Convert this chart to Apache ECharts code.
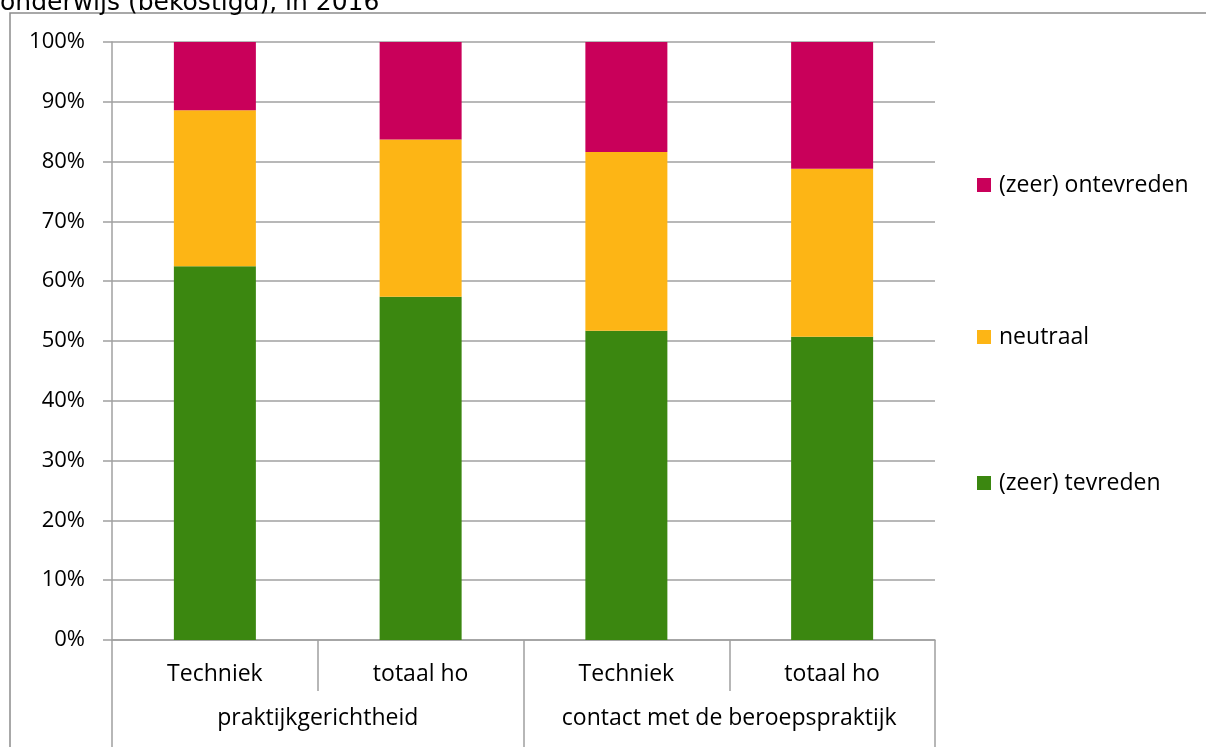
<!DOCTYPE html>
<html>
<head>
<meta charset="utf-8">
<script src="https://cdn.jsdelivr.net/npm/echarts@6/dist/echarts.min.js"></script>
<style>
  html, body { margin: 0; padding: 0; background: #fff; }
  #chart { width: 1206px; height: 747px; }
</style>
</head>
<body>
<div id="chart"></div>
<script>
// categories and values (percent)
const categories = ['Techniek', 'totaal ho', 'Techniek', 'totaal ho'];
const groups = ['praktijkgerichtheid', 'contact met de beroepspraktijk'];
const tevreden = [62.5, 57.4, 51.7, 50.7];
const neutraal = [26.1, 26.3, 29.9, 28.1];
const ontevreden = [11.4, 16.3, 18.4, 21.2];
const seriesNames = ['(zeer) tevreden', 'neutraal', '(zeer) ontevreden'];
const colors = ['#3B8710', '#FDB515', '#C9005A'];

const font = '"Open Sans", Lato, sans-serif';
const grey = '#A0A0A0';

const chart = echarts.init(document.getElementById('chart'));

// legend rows from top: ontevreden, neutraal, tevreden
const legendTops = [173, 325, 471];
const legendOrder = [2, 1, 0];

const option = {
    animation: false,
    textStyle: { fontFamily: font },
    grid: { left: 112, right: 271, top: 42, bottom: 107 },
    legend: legendOrder.map((idx, k) => ({
        orient: 'vertical',
        left: 977,
        top: legendTops[k],
        padding: 0,
        itemWidth: 14,
        itemHeight: 14,
        itemGap: 7,
        icon: 'rect',
        data: [seriesNames[idx]],
        textStyle: { fontFamily: font, fontSize: 23, lineHeight: 24, color: '#000', padding: [0, 0, 0, 3] }
    })),
    xAxis: [
        {
            type: 'category',
            data: categories,
            axisLine: { lineStyle: { color: grey, width: 1.5 } },
            axisTick: { show: true, interval: 0, length: 51, lineStyle: { color: grey, width: 1.5 } },
            axisLabel: { interval: 0, color: '#000', fontSize: 23, margin: 34, verticalAlign: 'middle' }
        },
        {
            type: 'category',
            data: groups,
            position: 'bottom',
            axisLine: { show: false },
            axisTick: { show: true, interval: 0, length: 110, lineStyle: { color: grey, width: 1.5 } },
            axisLabel: { interval: 0, color: '#000', fontSize: 23, margin: 78, verticalAlign: 'middle' }
        }
    ],
    yAxis: {
        type: 'value',
        min: 0,
        max: 100,
        interval: 10,
        axisLine: { show: true, lineStyle: { color: grey, width: 1.5 } },
        axisTick: { show: true, length: 9, lineStyle: { color: grey, width: 1.5 } },
        splitLine: { lineStyle: { color: grey, width: 1.5 } },
        axisLabel: { color: '#000', fontSize: 22, margin: 27, formatter: '{value}%' }
    },
    series: [tevreden, neutraal, ontevreden].map((vals, i) => ({
        name: seriesNames[i],
        type: 'bar',
        stack: 'total',
        barWidth: 82,
        itemStyle: { color: colors[i] },
        data: vals
    })),
    graphic: [
        {
            type: 'rect',
            shape: { x: 10, y: 13, width: 1250, height: 800 },
            style: { fill: 'none', stroke: '#8C8C8C', lineWidth: 1.5 },
            silent: true
        },
        {
            type: 'text',
            left: 0,
            top: -9,
            style: {
                text: 'onderwijs (bekostigd), in 2016',
                font: '25px "DejaVu Sans", Verdana, sans-serif',
                fill: '#000'
            }
        }
    ]
};

chart.setOption(option);
</script>
</body>
</html>
